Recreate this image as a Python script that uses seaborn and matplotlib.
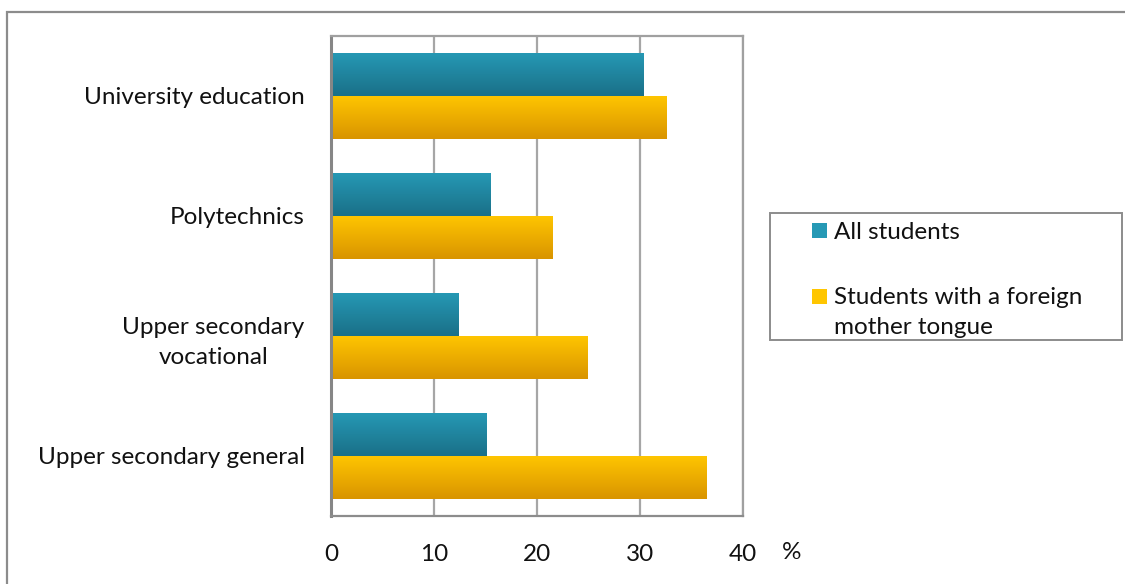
import matplotlib
matplotlib.use('Agg')
import matplotlib.pyplot as plt
import matplotlib.colors as mcolors
from matplotlib.patches import Rectangle
import numpy as np
import pandas as pd
import seaborn as sns

# Data (percent)
categories = ['University education', 'Polytechnics',
              'Upper secondary\nvocational', 'Upper secondary general']
all_students = [30.3, 15.5, 12.4, 15.1]
foreign_tongue = [32.6, 21.5, 24.9, 36.5]
groups = ['All students', 'Students with a foreign\nmother tongue']
x_ticks = [0, 10, 20, 30, 40]

# gradient colours (top -> bottom of each bar)
grad = {groups[0]: ('#2699B5', '#1A7088'),
        groups[1]: ('#FFC600', '#D99400')}

df = pd.DataFrame({
    'category': categories * 2,
    'value': all_students + foreign_tongue,
    'group': [groups[0]] * 4 + [groups[1]] * 4,
})

FS = 17.5
W, H = 1125, 584

sns.set_style('white')
plt.rcParams['font.family'] = ['Lato', 'DejaVu Sans']

fig = plt.figure(figsize=(W / 100, H / 100), dpi=100)
ax = fig.add_axes([331 / W, 1 - 516 / H, 412 / W, 480 / H])

pal = {g: grad[g][0] for g in groups}
sns.barplot(data=df, y='category', x='value', hue='group', order=categories,
            hue_order=groups, palette=pal, orient='h', width=0.72, gap=0,
            ax=ax, legend=False)

# swap flat fills for a vertical gradient, like the original
bars = [p for p in ax.patches if isinstance(p, Rectangle)]
for i, p in enumerate(bars):
    g = groups[i // len(categories)]
    cmap = mcolors.LinearSegmentedColormap.from_list('g', list(grad[g]))
    arr = np.linspace(0, 1, 64).reshape(-1, 1)
    x0, y0 = p.get_x(), p.get_y()
    w, h = p.get_width(), p.get_height()
    im = ax.imshow(arr, cmap=cmap, aspect='auto', origin='upper',
                   extent=(x0, x0 + w, y0 + h, y0), zorder=2, interpolation='bilinear')
    im.set_clip_path(p)
    p.set_facecolor('none')
    p.set_edgecolor('none')

ax.set_xlim(0, 40)
ax.set_ylim(3.5, -0.5)
ax.set_xticks(x_ticks)
ax.set_xticklabels([str(t) for t in x_ticks])
ax.set_xlabel('')
ax.set_ylabel('')

ax.grid(False)
for xv in x_ticks[1:]:
    ax.axvline(xv, color='#A6A6A6', lw=1.6, zorder=1)

for side in ['top', 'right', 'bottom']:
    ax.spines[side].set_visible(True)
    ax.spines[side].set_color('#A0A0A0')
    ax.spines[side].set_linewidth(1.6)
ax.spines['bottom'].set_color('#8C8C8C')
ax.spines['left'].set_color('#868686')
ax.spines['left'].set_linewidth(2.2)

ax.tick_params(axis='y', which='major', length=0, pad=19, labelsize=FS,
               labelcolor='#111111')
ax.set_yticks([-0.5, 0.5, 1.5, 2.5, 3.5], minor=True)
ax.tick_params(axis='y', which='minor', length=12, width=1.6,
               direction='inout', color='#A0A0A0')
ax.tick_params(axis='x', which='major', length=6, width=1.6, direction='out',
               color='#A0A0A0', pad=14, labelsize=FS, labelcolor='#111111')
for lbl in ax.get_yticklabels():
    lbl.set_multialignment('center')
    lbl.set_linespacing(1.5)

ax.text(1.119, -0.077, '%', transform=ax.transAxes, ha='center', va='center',
        fontsize=FS, color='#111111')

# legend box, laid out like the original (squares beside the first line)
fig.add_artist(Rectangle((770 / W, 1 - 340 / H), 352 / W, 127 / H,
                         transform=fig.transFigure, fill=False,
                         edgecolor='#8C8C8C', lw=1.4))
leg_y = [231, 296]
for g, yy in zip(groups, leg_y):
    fig.add_artist(Rectangle((812 / W, 1 - (yy + 7.5) / H), 15 / W, 15 / H,
                             transform=fig.transFigure,
                             facecolor=grad[g][0], edgecolor='none'))
    fig.text(834 / W, 1 - (yy - 9) / H, g, ha='left', va='top',
             fontsize=FS, color='#111111', linespacing=1.55)

# outer chart border
fig.add_artist(Rectangle((7 / W, -0.1), 1.2, 1 - 12 / H + 0.1,
                         transform=fig.transFigure, fill=False,
                         edgecolor='#8C8C8C', lw=1.6))

fig.savefig('out.png', dpi=100)
